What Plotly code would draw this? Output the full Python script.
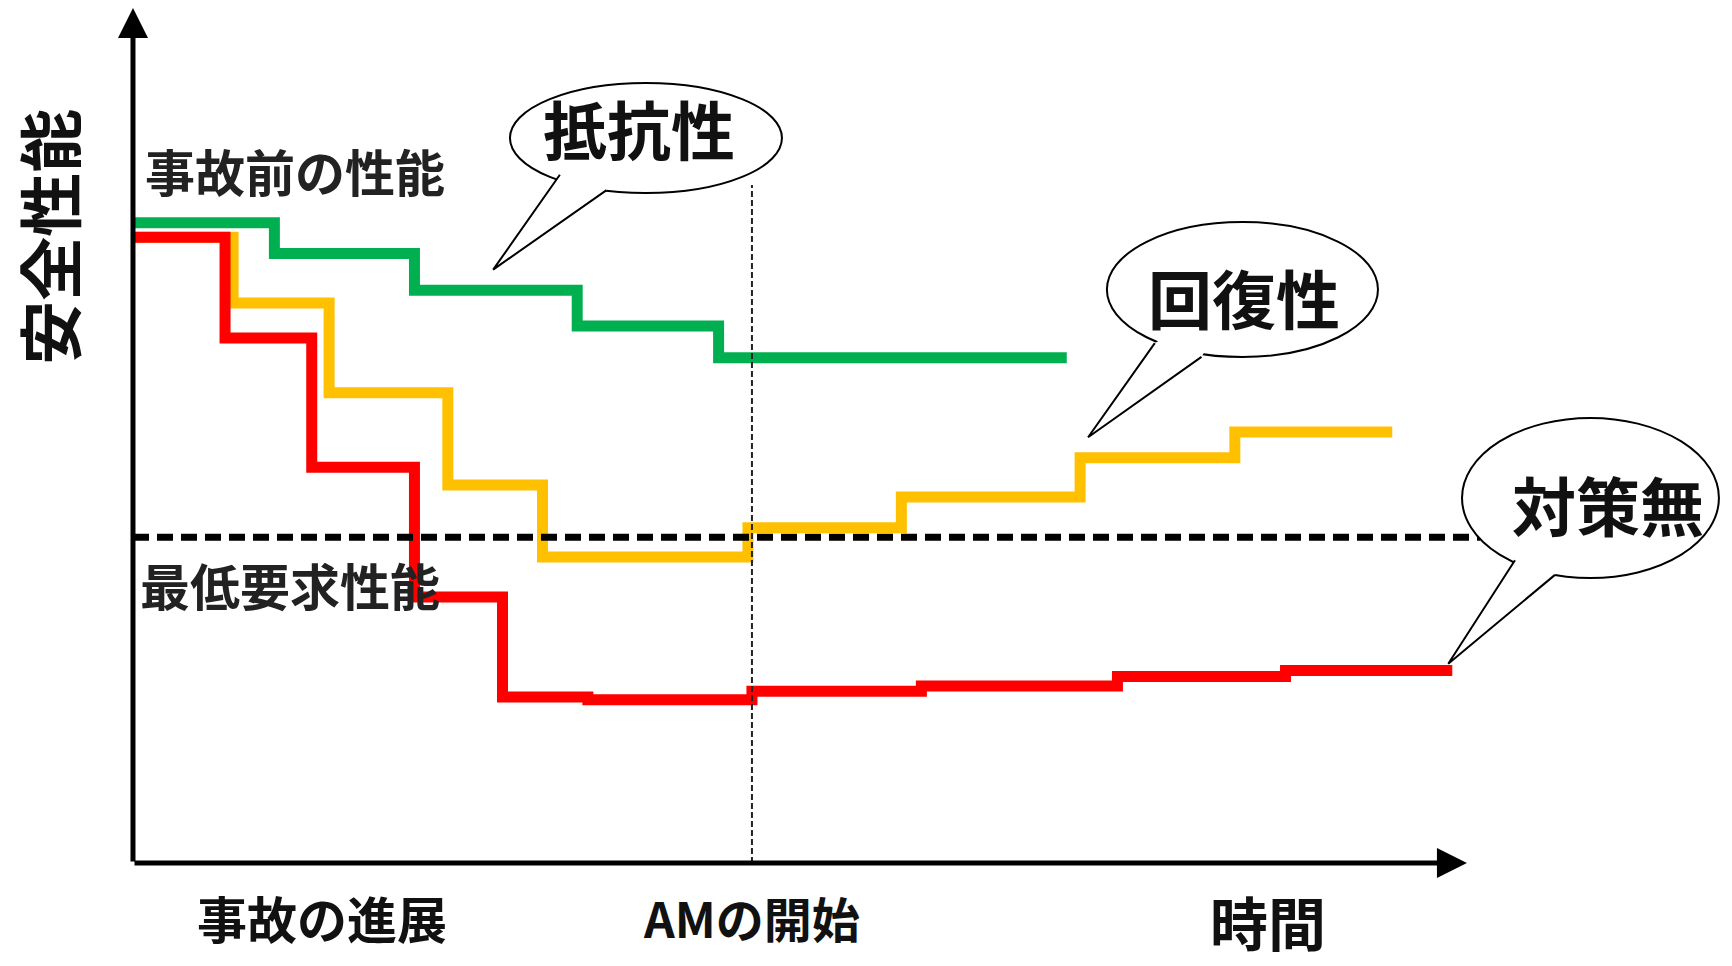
import plotly.graph_objects as go

# --- data (time units on x, safety performance on y) ---
green_t = [0, 10.6, 21.1, 33.3, 43.9, 70.0]
green_p = [74.9, 71.3, 67.0, 62.8, 59.1, 59.1]

yellow_t = [0, 7.5, 14.7, 23.6, 30.7, 46.1, 57.6, 71.0, 82.6, 94.4]
yellow_p = [73.2, 65.5, 55.0, 44.2, 35.8, 39.2, 42.8, 47.4, 50.4, 50.4]

red_t = [0, 6.9, 13.4, 21.1, 27.7, 34.1, 46.4, 59.1, 73.8, 86.4, 98.9]
red_p = [73.2, 61.4, 46.3, 31.1, 19.4, 19.1, 20.1, 20.7, 21.8, 22.5, 22.5]

min_required = 38.1      # 最低要求性能
am_start = 46.4          # AMの開始
axis_end_t = 100
axis_end_p = 100

FONT = "Noto Sans CJK JP"
GREEN = "#00B050"
YELLOW = "#FFC000"
RED = "#FF0000"

fig = go.Figure()

# step lines
for t, p, color in [(yellow_t, yellow_p, YELLOW),
                    (green_t, green_p, GREEN),
                    (red_t, red_p, RED)]:
    fig.add_trace(go.Scatter(
        x=t, y=p, mode="lines", line_shape="hv",
        line=dict(color=color, width=11),
        hoverinfo="skip"
    ))

# minimum required performance (thick dashed)
fig.add_trace(go.Scatter(
    x=[0, 101], y=[min_required, min_required], mode="lines",
    line=dict(color="black", width=7, dash="16px,8px"),
    hoverinfo="skip"
))

# AM start (thin dashed)
fig.add_trace(go.Scatter(
    x=[am_start, am_start], y=[0, 79.3], mode="lines",
    line=dict(color="#222222", width=2, dash="6px,3px"),
    hoverinfo="skip"
))

annotations = []

# axes with arrows
for tip_x, tip_y in [(0, axis_end_p), (axis_end_t, 0)]:
    annotations.append(dict(
        x=tip_x, y=tip_y, ax=0, ay=0, xref="x", yref="y",
        axref="x", ayref="y", text="", showarrow=True,
        arrowhead=2, arrowsize=1.2, arrowwidth=5, arrowcolor="black",
        standoff=0
    ))


def label(x, y, text, size, anchor="center", angle=0, color="#111111"):
    annotations.append(dict(
        x=x, y=y, xref="x", yref="y", text=text, showarrow=False,
        xanchor=anchor, yanchor="middle", textangle=angle,
        font=dict(family=FONT, size=size, color=color, weight=700)
    ))


label(-6.4, 73.2, "安全性能", 64, angle=-90)
label(0.75, 81.0, "事故前の性能", 50, anchor="left", color="#222222")
label(0.4, 32.6, "最低要求性能", 50, anchor="left", color="#222222")
label(14.2, -6.3, "事故の進展", 50)
label(am_start, -6.3, "AMの開始", 48)
label(85.1, -6.8, "時間", 58)

# speech bubbles: ellipse box, pointer base points, tip, text
bubbles = [
    dict(box=(28.26, 78.36, 48.65, 91.23), b1=(32.0, 80.5), b2=(35.5, 78.7),
         tip=(27.0, 69.4), text="抵抗性", pos=(37.9, 86.1)),
    dict(box=(73.01, 59.18, 93.33, 74.97), b1=(76.6, 60.8), b2=(80.1, 59.2),
         tip=(71.6, 49.8), text="回復性", pos=(83.3, 66.3)),
    dict(box=(99.63, 33.33, 118.89, 52.05), b1=(103.6, 35.4), b2=(106.6, 33.7),
         tip=(98.6, 23.3), text="対策無", pos=(110.6, 42.1)),
]

shapes = []
for b in bubbles:
    x0, y0, x1, y1 = b["box"]
    cx, cy = (x0 + x1) / 2, (y0 + y1) / 2
    shapes.append(dict(type="circle", xref="x", yref="y",
                       x0=x0, y0=y0, x1=x1, y1=y1,
                       fillcolor="white", line=dict(color="black", width=2),
                       layer="above"))
    (bx1, by1), (bx2, by2), (tx, ty) = b["b1"], b["b2"], b["tip"]
    # white patch hiding the ellipse outline at the pointer base
    shapes.append(dict(type="path", xref="x", yref="y",
                       path=f"M{bx1},{by1} L{tx},{ty} L{bx2},{by2} L{cx},{cy} Z",
                       fillcolor="white", line=dict(width=0), layer="above"))
    # pointer outline (two sides)
    shapes.append(dict(type="path", xref="x", yref="y",
                       path=f"M{bx1},{by1} L{tx},{ty} L{bx2},{by2}",
                       line=dict(color="black", width=2), layer="above"))
    label(b["pos"][0], b["pos"][1], b["text"], 64)

fig.update_layout(
    width=1732, height=966,
    margin=dict(l=0, r=0, t=0, b=0),
    paper_bgcolor="white", plot_bgcolor="white",
    showlegend=False,
    xaxis=dict(range=[-9.97, 119.87], visible=False, fixedrange=True),
    yaxis=dict(range=[-12.05, 100.94], visible=False, fixedrange=True),
    shapes=shapes,
    annotations=annotations,
)

# drop the default page margin so the figure fills the window exactly
fig.write_html(
    "out.html",
    config=dict(displayModeBar=False),
    post_script="document.body.style.margin='0';document.body.style.overflow='hidden';",
)
